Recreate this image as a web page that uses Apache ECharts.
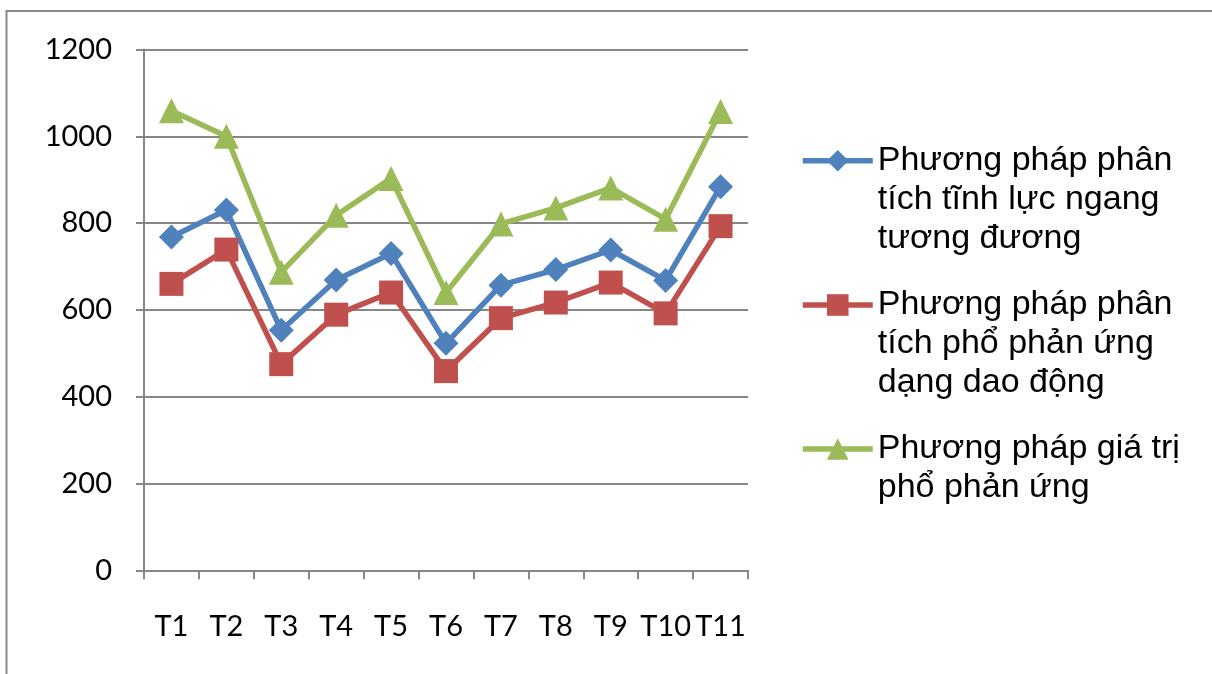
<!DOCTYPE html>
<html>
<head>
<meta charset="utf-8">
<script src="https://cdn.jsdelivr.net/npm/echarts@6/dist/echarts.min.js"></script>
<style>
  html, body { margin: 0; padding: 0; background: #fff; }
  #chart { width: 1212px; height: 674px; }
</style>
</head>
<body>
<div id="chart"></div>
<script>
// Categories and values of the three analysis methods
const categories = ['T1', 'T2', 'T3', 'T4', 'T5', 'T6', 'T7', 'T8', 'T9', 'T10', 'T11'];
const seriesNames = [
  'Phương pháp phân tích tĩnh lực ngang tương đương',
  'Phương pháp phân tích phổ phản ứng dạng dao động',
  'Phương pháp giá trị phổ phản ứng'
];
const legendLines = [
  ['Phương pháp phân', 'tích tĩnh lực ngang', 'tương đương'],
  ['Phương pháp phân', 'tích phổ phản ứng', 'dạng dao động'],
  ['Phương pháp giá trị', 'phổ phản ứng']
];
const staticValues = [768, 830, 553, 669, 730, 523, 657, 693, 738, 668, 884];
const modalValues = [660, 739, 475, 589, 640, 459, 581, 617, 663, 592, 793];
const spectrumValues = [1059, 1000, 687, 818, 903, 640, 798, 835, 881, 809, 1057];
const yTicks = { min: 0, max: 1200, interval: 200 };

const colors = ['#4F81BD', '#C0504D', '#9BBB59'];
const symbols = ['diamond', 'rect', 'triangle'];
const symbolSizes = [25, 24, 25];
const valueSets = [staticValues, modalValues, spectrumValues];

const axisGray = '#878787';
const LINE_W = 5.5;
const LINE_H = 39;
const legendIconY = [160.7, 305, 449];

const chart = echarts.init(document.getElementById('chart'), null, { renderer: 'canvas' });

// One legend per series; leading blank lines keep the icon level with the first text line
const legends = seriesNames.map((name, i) => {
  const n = legendLines[i].length;
  const half = (2 * n - 1) * LINE_H / 2;
  const text = '\n'.repeat(n - 1) + legendLines[i].join('\n');
  return {
    data: [name],
    orient: 'vertical',
    left: 800,
    top: legendIconY[i] - half,
    padding: 0,
    itemWidth: 70,
    itemHeight: 27,
    selectedMode: false,
    lineStyle: { width: LINE_W },
    formatter: () => text,
    textStyle: {
      fontFamily: '"Liberation Sans", Arial, sans-serif',
      fontSize: 34,
      color: '#000',
      lineHeight: LINE_H
    }
  };
});

chart.setOption({
  animation: false,
  backgroundColor: '#fff',
  graphic: [{
    type: 'rect',
    shape: { x: 6.5, y: 11, width: 1400, height: 1000 },
    style: { fill: 'none', stroke: '#898989', lineWidth: 2 },
    silent: true
  }],
  legend: legends,
  grid: { left: 144, right: 464, top: 49.5, bottom: 103.7, containLabel: false },
  xAxis: {
    type: 'category',
    data: categories,
    boundaryGap: true,
    axisLine: { show: true, lineStyle: { color: axisGray, width: 2 } },
    axisTick: { show: true, alignWithLabel: false, length: 9, lineStyle: { color: axisGray, width: 2 } },
    axisLabel: {
      margin: 42,
      color: '#000',
      fontFamily: 'Lato, "Open Sans", sans-serif',
      fontSize: 29,
      interval: 0
    },
    splitLine: { show: false }
  },
  yAxis: {
    type: 'value',
    min: yTicks.min,
    max: yTicks.max,
    interval: yTicks.interval,
    axisLine: { show: true, lineStyle: { color: axisGray, width: 2 } },
    axisTick: { show: true, length: 8, lineStyle: { color: axisGray, width: 2 } },
    axisLabel: {
      margin: 32,
      color: '#000',
      fontFamily: 'Lato, "Open Sans", sans-serif',
      fontSize: 29,
      formatter: (v) => String(v)
    },
    splitLine: { show: true, lineStyle: { color: axisGray, width: 2 } }
  },
  series: seriesNames.map((name, i) => ({
    name: name,
    type: 'line',
    data: valueSets[i],
    symbol: symbols[i],
    symbolSize: symbolSizes[i],
    showAllSymbol: true,
    lineStyle: { color: colors[i], width: LINE_W },
    itemStyle: { color: colors[i] },
    emphasis: { disabled: true }
  }))
});
</script>
</body>
</html>
